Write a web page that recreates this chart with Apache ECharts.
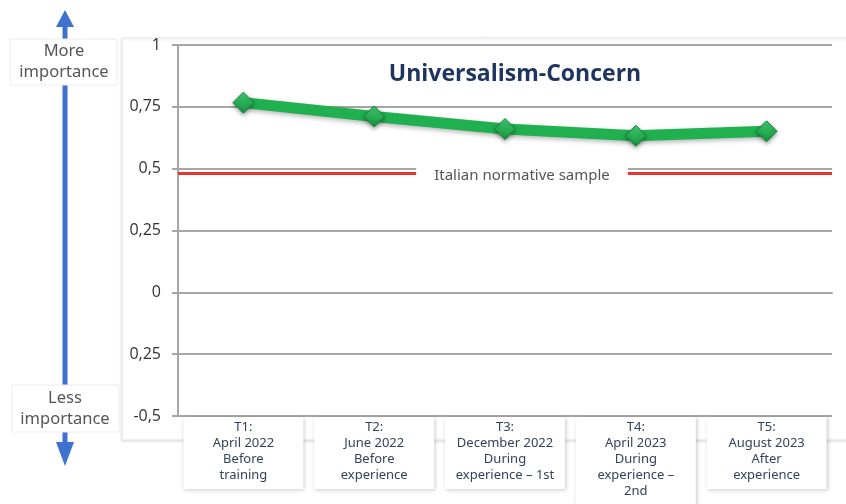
<!DOCTYPE html>
<html>
<head>
<meta charset="utf-8">
<script src="https://cdn.jsdelivr.net/npm/echarts@6/dist/echarts.min.js"></script>
<style>
  html, body { margin: 0; padding: 0; background: #ffffff; }
  #chart { width: 846px; height: 504px; }
</style>
</head>
<body>
<div id="chart"></div>
<script>
// Measurement occasions
var categories = [
  'T1:\nApril 2022\nBefore\ntraining',
  'T2:\nJune 2022\nBefore\nexperience',
  'T3:\nDecember 2022\nDuring\nexperience – 1st',
  'T4:\nApril 2023\nDuring\nexperience –\n2nd',
  'T5:\nAugust 2023\nAfter\nexperience'
];
// Universalism-Concern mean scores
var concernScores = [0.767, 0.711, 0.660, 0.633, 0.651];
// Italian normative sample reference level
var normativeLevel = 0.48;
// Y-axis tick labels, from -0.5 up to 1
var yTickLabels = ['-0,5', '0,25', '0', '0,25', '0,5', '0,75', '1'];
var yMin = -0.5, yMax = 1, yStep = 0.25;

var chart = echarts.init(document.getElementById('chart'), null, { renderer: 'canvas' });

var blue = '#3f71cf';
var sideText = {
  fontFamily: 'Noto Sans', fontSize: 16.5, fill: '#555555',
  align: 'center', verticalAlign: 'top', lineHeight: 21
};

chart.setOption({
  backgroundColor: '#ffffff',
  animation: false,
  title: {
    text: 'Universalism-Concern',
    left: 510, top: 58, textAlign: 'center',
    textStyle: { fontFamily: 'Open Sans', fontWeight: 'bold', fontSize: 23, color: '#1f3560' }
  },
  grid: { left: 178, right: 14, top: 45, bottom: 88, outerBoundsMode: 'none', containLabel: false },
  xAxis: {
    type: 'category',
    data: categories,
    boundaryGap: true,
    axisLine: { lineStyle: { color: '#a6a6a6', width: 2 } },
    axisTick: { show: false },
    axisLabel: {
      interval: 0,
      margin: 1,
      color: '#34435a',
      fontFamily: 'Noto Sans',
      fontSize: 13,
      lineHeight: 16,
      width: 108,
      align: 'center',
      backgroundColor: '#ffffff',
      padding: [2, 6, 6, 6],
      shadowColor: 'rgba(0,0,0,0.22)',
      shadowBlur: 4,
      shadowOffsetX: 1,
      shadowOffsetY: 1
    }
  },
  yAxis: {
    type: 'value',
    min: yMin, max: yMax, interval: yStep,
    axisLine: { show: true, lineStyle: { color: '#a6a6a6', width: 2 } },
    axisTick: { show: true, length: 6, lineStyle: { color: '#a6a6a6', width: 2 } },
    splitLine: { lineStyle: { color: '#a6a6a6', width: 2 } },
    axisLabel: {
      margin: 17,
      color: '#333333',
      fontFamily: 'Open Sans',
      fontSize: 16,
      formatter: function (v) {
        return yTickLabels[Math.round((v - yMin) / yStep)];
      }
    }
  },
  series: [{
    type: 'line',
    data: concernScores,
    symbol: 'diamond',
    symbolSize: 21,
    z: 5,
    lineStyle: {
      color: '#20b04f', width: 11,
      shadowColor: 'rgba(0,0,0,0.3)', shadowBlur: 5, shadowOffsetY: 2
    },
    itemStyle: {
      color: new echarts.graphic.LinearGradient(0, 0, 0, 1, [
        { offset: 0, color: '#3fd072' },
        { offset: 1, color: '#14903c' }
      ]),
      borderColor: '#128437', borderWidth: 1,
      shadowColor: 'rgba(0,0,0,0.35)', shadowBlur: 4, shadowOffsetY: 2
    },
    markLine: {
      silent: true,
      symbol: 'none',
      data: [{ yAxis: normativeLevel }],
      lineStyle: { color: '#e53532', width: 3, type: 'solid' },
      label: {
        show: true,
        position: 'middle',
        formatter: 'Italian normative sample',
        backgroundColor: '#ffffff',
        padding: [2, 18, 2, 18],
        color: '#555555',
        fontFamily: 'Noto Sans',
        fontSize: 15,
        offset: [17, 17]
      }
    }
  }],
  graphic: [
    // chart card outline
    { type: 'rect', z: -10, shape: { x: 122, y: 38, width: 730, height: 402 },
      style: { fill: '#ffffff', stroke: '#e6e6e6', lineWidth: 1,
               shadowColor: 'rgba(0,0,0,0.12)', shadowBlur: 3, shadowOffsetY: 1 } },
    // importance arrow shaft and heads
    { type: 'rect', z: 1, shape: { x: 62.5, y: 26, width: 5, height: 416 }, style: { fill: blue } },
    { type: 'polygon', z: 1, shape: { points: [[65, 10], [56, 27], [74, 27]] }, style: { fill: blue } },
    { type: 'polygon', z: 1, shape: { points: [[65, 466], [56, 442], [74, 442]] }, style: { fill: blue } },
    // "More importance" box
    { type: 'rect', z: 2, shape: { x: 10, y: 39, width: 107, height: 46 },
      style: { fill: '#ffffff', stroke: '#ececec', lineWidth: 1 } },
    { type: 'text', z: 3, style: Object.assign({}, sideText, { text: 'More\nimportance', x: 64, y: 41 }) },
    // "Less importance" box
    { type: 'rect', z: 2, shape: { x: 12, y: 385, width: 107, height: 47 },
      style: { fill: '#ffffff', stroke: '#ececec', lineWidth: 1 } },
    { type: 'text', z: 3, style: Object.assign({}, sideText, { text: 'Less\nimportance', x: 65, y: 388 }) }
  ]
});
</script>
</body>
</html>
